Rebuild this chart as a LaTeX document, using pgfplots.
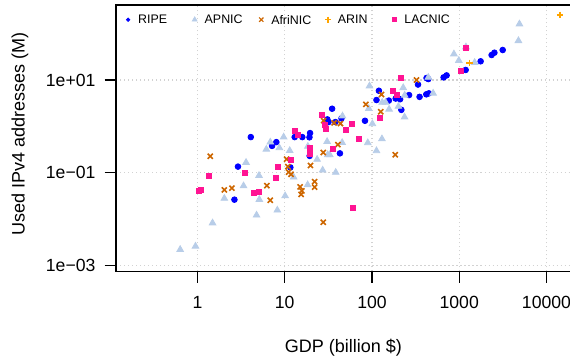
\documentclass[border=0pt]{standalone}
\usepackage{fontspec}
\setmainfont{Liberation Sans}
\usepackage{pgfplots}
\pgfplotsset{compat=1.18}
\definecolor{ripe}{RGB}{0,0,255}
\definecolor{apnic}{RGB}{184,205,232}
\definecolor{afrinic}{RGB}{205,102,0}
\definecolor{arin}{RGB}{255,165,0}
\definecolor{lacnic}{RGB}{255,20,147}
\begin{document}
\begin{tikzpicture}
\begin{axis}[
  name=ax,
  scale only axis, width=227pt, height=133pt,
  xmode=log, ymode=log,
  xmin=0.1167, xmax=18900, ymin=0.000741, ymax=417,
  xtick={1,10,100,1000,10000}, xticklabels={1,10,100,1000,10000},
  ytick={0.001,0.1,10}, yticklabels={1e−03,1e−01,1e+01},
  xminorticks=false, yminorticks=false,
  tick align=outside, major tick length=5.8pt,
  xtick pos=left, ytick pos=left,
  grid=major,
  major grid style={gray!35, line width=0.6pt, dash pattern=on 0.6pt off 1.4pt},
  tick style={black, line width=0.6pt},
  axis line style={line width=0.65pt},
  /pgf/number format/assume math mode=true,
  ticklabel style={font=\fontsize{8.8}{10}\selectfont},
  xticklabel style={yshift=-3pt},
  yticklabel style={xshift=-1pt},
  xlabel={GDP (billion \$)}, ylabel={Used IPv4 addresses (M)},
  label style={font=\fontsize{9}{11}\selectfont},
  xlabel style={at={(axis description cs:0.5,-0.2857)}, anchor=center},
  ylabel style={at={(axis description cs:-0.2115,0.515)}, anchor=center},
  legend columns=5,
  legend cell align=left,
  legend style={draw=none, fill=none, at={(axis description cs:0.0176,0.945)}, anchor=west,
    inner sep=0pt, outer sep=0pt, font=\fontsize{6.2}{7}\selectfont,
    nodes={inner sep=0pt, text depth=0pt},
    /tikz/every odd column/.append style={column sep=3pt}},
  legend image code/.code={\path[draw=none,fill=none] (-2pt,-2pt) rectangle (2pt,2pt); \draw[#1] plot coordinates {(0pt,0pt)};},
]
\addplot[only marks, mark=*, mark size=1.42pt, color=ripe, legend image post style={mark size=0.85pt}] coordinates {
(2350,34.7) (2530,38.9) (3150,44.5) (1760,25.4) (1185,16.5) (717,12.6) (662,11.4) (422,11.05) (442,10.5) (337,7.99) (120,5.87) (112.6,3.70) (156,3.60) (187,3.98) (210,3.85) (266,4.74) (351,4.33) (419,4.91) (449,5.16) (217,2.27) (34.9,2.40) (44.7,1.485) (83.1,1.318) (38.1,1.236) (30.8,1.414) (31.7,1.236) (42.9,0.261) (4.08,0.586) (13.0,0.586) (15.9,0.586) (19.2,0.580) (19.5,0.715) (8.01,0.456) (7.15,0.378) (19.3,0.230) (11.6,0.130) (2.91,0.135) (2.65,0.0261)
};
\addlegendentry{\makebox[26.25pt][l]{RIPE}}
\addplot[only marks, mark=triangle*, mark size=1.9pt, color=apnic, legend image post style={mark size=1.35pt}] coordinates {
(4900,162) (4770,70.7) (1194,51.7) (869,36.5) (989,26.4) (1502,23.9) (442,11.4) (93.6,7.42) (228,6.82) (131,3.29) (143,3.29) (237,4.69) (502,5.18) (201,2.70) (157,2.34) (91.9,2.42) (236,1.585) (45.9,1.666) (101,1.135) (89.5,0.441) (130,0.536) (45.5,0.445) (112.6,0.296) (9.71,0.586) (6.83,0.456) (6.15,0.319) (8.67,0.344) (11.4,0.299) (18.4,0.369) (30.6,0.468) (31.1,0.243) (32.8,0.243) (23.5,0.193) (27.2,0.113) (38.4,0.101) (12.65,0.0799) (3.60,0.166) (5.07,0.0866) (3.37,0.0518) (2.03,0.0278) (5.11,0.0263) (10.1,0.0315) (18.3,0.0545) (8.22,0.01546) (4.75,0.01206) (1.487,0.00818) (0.948,0.002575) (0.633,0.002185)
};
\addlegendentry{\makebox[26.25pt][l]{APNIC}}
\addplot[only marks, mark=x, mark size=1.8pt, color=afrinic, mark options={line width=0.8pt}, legend image post style={mark size=1.5pt, mark options={line width=0.6pt}}] coordinates {
(324,10.0) (128.5,4.86) (84.9,2.98) (126,2.06) (40.7,0.403) (36.8,1.187) (43.5,1.147) (27.9,1.331) (27.6,0.273) (19.7,0.143) (185,0.243) (10.5,0.196) (10.85,0.135) (11.06,0.1025) (11.8,0.0919) (22.0,0.0639) (22.0,0.0486) (15.0,0.0493) (15.7,0.0404) (15.4,0.0338) (6.83,0.0254) (6.23,0.0524) (2.03,0.0423) (2.48,0.0462) (1.40,0.227) (27.6,0.0085)
};
\addlegendentry{\makebox[26.25pt][l]{AfriNIC}}
\addplot[only marks, mark=+, mark size=1.65pt, color=arin, mark options={line width=0.7pt}, legend image post style={mark size=1.5pt, mark options={draw=arin, line width=0.8pt}}] coordinates {
(14320,254) (1316,23.3)
};
\addlegendentry{\makebox[26.25pt][l]{ARIN}}
\addplot[only marks, mark=square*, mark size=1.25pt, color=lacnic, legend image post style={mark size=0.95pt}] coordinates {
(1194,48.5) (1051,15.5) (212,10.9) (172,5.84) (195,4.67) (123.5,1.493) (58.2,1.147) (50.3,0.821) (71.3,0.538) (36.1,0.330) (26.5,1.751) (28.5,1.054) (30.0,0.863) (13.1,0.778) (14.1,0.647) (19.3,0.339) (19.2,0.260) (11.9,0.1845) (8.29,0.1308) (7.86,0.0787) (3.46,0.100) (1.362,0.0853) (1.04,0.0404) (1.08,0.0433) (4.45,0.0373) (5.08,0.0388) (60.2,0.01769)
};
\addlegendentry{LACNIC}
\end{axis}
\pgfresetboundingbox
\path ([xshift=-58pt,yshift=-44.5pt]ax.south west) rectangle ([xshift=-0.3pt,yshift=2.5pt]ax.north east);
\end{tikzpicture}
\end{document}
